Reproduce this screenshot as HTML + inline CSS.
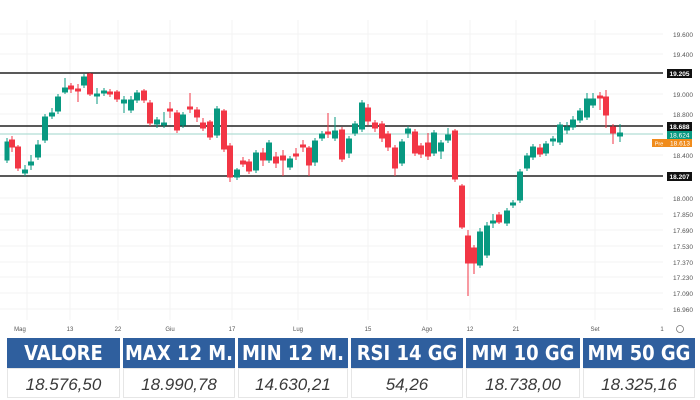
<!DOCTYPE html>
<html><head><meta charset="utf-8"><style>
body{margin:0;width:700px;height:400px;background:#fff;overflow:hidden;font-family:"Liberation Sans",sans-serif}
svg{position:absolute;left:0;top:0}
.t{position:absolute;top:338px;height:30px;background:#2f5f9e;color:#fff;font-weight:bold;font-size:20px;text-align:center;line-height:30px;font-family:"Liberation Sans Narrow","DejaVu Sans Condensed","Liberation Sans",sans-serif}
.v{position:absolute;top:368px;height:30px;color:#3a3a3a;font-style:italic;font-size:17px;text-align:center;line-height:31px;border:1px solid #e6e6e6;box-sizing:border-box}
</style></head><body>
<svg width="700" height="340" viewBox="0 0 700 340">
<g stroke="#f3f3f3" stroke-width="1">
<line x1="0" y1="34" x2="663" y2="34"/><line x1="0" y1="54" x2="663" y2="54"/><line x1="0" y1="94" x2="663" y2="94"/><line x1="0" y1="114" x2="663" y2="114"/><line x1="0" y1="155" x2="663" y2="155"/><line x1="0" y1="198" x2="663" y2="198"/><line x1="0" y1="214" x2="663" y2="214"/><line x1="0" y1="230" x2="663" y2="230"/><line x1="0" y1="246" x2="663" y2="246"/><line x1="0" y1="262" x2="663" y2="262"/><line x1="0" y1="277" x2="663" y2="277"/><line x1="0" y1="293" x2="663" y2="293"/><line x1="0" y1="309" x2="663" y2="309"/>
<line x1="27" y1="20" x2="27" y2="320"/><line x1="70" y1="20" x2="70" y2="320"/><line x1="118" y1="20" x2="118" y2="320"/><line x1="170" y1="20" x2="170" y2="320"/><line x1="232" y1="20" x2="232" y2="320"/><line x1="298" y1="20" x2="298" y2="320"/><line x1="368" y1="20" x2="368" y2="320"/><line x1="427" y1="20" x2="427" y2="320"/><line x1="470" y1="20" x2="470" y2="320"/><line x1="516" y1="20" x2="516" y2="320"/><line x1="595" y1="20" x2="595" y2="320"/>
</g>
<line x1="0" y1="73" x2="663" y2="73" stroke="#222" stroke-width="1.5"/>
<line x1="0" y1="126" x2="663" y2="126" stroke="#222" stroke-width="1.5"/>
<line x1="0" y1="134" x2="663" y2="134" stroke="#9fd6cb" stroke-width="1"/>
<line x1="0" y1="176" x2="663" y2="176" stroke="#222" stroke-width="1.5"/>
<g stroke-width="1">
<g stroke="#089981" fill="#089981">
<line x1="7" y1="138" x2="7" y2="163"/><rect x="5" y="142" width="4" height="18"/>
<line x1="25" y1="165" x2="25" y2="176"/><rect x="22.5" y="170" width="5" height="3"/>
<line x1="31" y1="155" x2="31" y2="170"/><rect x="28.5" y="162" width="5" height="3"/>
<line x1="38" y1="140" x2="38" y2="160"/><rect x="35.5" y="145" width="5" height="12"/>
<line x1="45" y1="114" x2="45" y2="143"/><rect x="42.5" y="117" width="5" height="23"/>
<line x1="52" y1="108" x2="52" y2="119"/><rect x="49.5" y="113" width="5" height="3"/>
<line x1="58" y1="94" x2="58" y2="114"/><rect x="55.5" y="97" width="5" height="14"/>
<line x1="65" y1="78" x2="65" y2="94"/><rect x="62.5" y="88" width="5" height="4"/>
<line x1="84" y1="74" x2="84" y2="88"/><rect x="81.5" y="77" width="5" height="8"/>
<line x1="97" y1="88" x2="97" y2="104"/><rect x="94.5" y="94" width="5" height="2"/>
<line x1="104" y1="88" x2="104" y2="96"/><rect x="101.5" y="91" width="5" height="2"/>
<line x1="124" y1="96" x2="124" y2="113"/><rect x="121.5" y="100" width="5" height="3"/>
<line x1="131" y1="96" x2="131" y2="113"/><rect x="128.5" y="100" width="5" height="10"/>
<line x1="137" y1="90" x2="137" y2="103"/><rect x="134.5" y="93" width="5" height="7"/>
<line x1="157" y1="117" x2="157" y2="128"/><rect x="154.5" y="120" width="5" height="4"/>
<line x1="164" y1="112" x2="164" y2="128"/><rect x="161.5" y="123" width="5" height="2"/>
<line x1="183" y1="112" x2="183" y2="128"/><rect x="180.5" y="115" width="5" height="10"/>
<line x1="217" y1="106" x2="217" y2="138"/><rect x="214.5" y="109" width="5" height="26"/>
<line x1="237" y1="168" x2="237" y2="180"/><rect x="234.5" y="170" width="5" height="7"/>
<line x1="256" y1="150" x2="256" y2="173"/><rect x="253.5" y="153" width="5" height="17"/>
<line x1="269" y1="140" x2="269" y2="163"/><rect x="266.5" y="143" width="5" height="17"/>
<line x1="290" y1="156" x2="290" y2="170"/><rect x="287.5" y="159" width="5" height="8"/>
<line x1="315" y1="138" x2="315" y2="166"/><rect x="312.5" y="141" width="5" height="21"/>
<line x1="322" y1="131" x2="322" y2="141"/><rect x="319.5" y="134" width="5" height="4"/>
<line x1="335" y1="117" x2="335" y2="141"/><rect x="332.5" y="131" width="5" height="7"/>
<line x1="349" y1="136" x2="349" y2="158"/><rect x="346.5" y="139" width="5" height="14"/>
<line x1="355" y1="121" x2="355" y2="136"/><rect x="352.5" y="124" width="5" height="9"/>
<line x1="362" y1="100" x2="362" y2="132"/><rect x="359.5" y="103" width="5" height="26"/>
<line x1="402" y1="139" x2="402" y2="166"/><rect x="399.5" y="142" width="5" height="21"/>
<line x1="408" y1="126" x2="408" y2="138"/><rect x="405.5" y="129" width="5" height="4"/>
<line x1="434" y1="130" x2="434" y2="156"/><rect x="431.5" y="133" width="5" height="20"/>
<line x1="441" y1="140" x2="441" y2="159"/><rect x="438.5" y="143" width="5" height="8"/>
<line x1="448" y1="128" x2="448" y2="143"/><rect x="445.5" y="135" width="5" height="5"/>
<line x1="480" y1="228" x2="480" y2="268"/><rect x="477.5" y="232" width="5" height="33"/>
<line x1="487" y1="222" x2="487" y2="258"/><rect x="484.5" y="226" width="5" height="29"/>
<line x1="493" y1="214" x2="493" y2="228"/><rect x="490.5" y="221" width="5" height="2"/>
<line x1="507" y1="208" x2="507" y2="226"/><rect x="504.5" y="211" width="5" height="12"/>
<line x1="513" y1="200" x2="513" y2="208"/><rect x="510.5" y="203" width="5" height="2"/>
<line x1="520" y1="169" x2="520" y2="203"/><rect x="517.5" y="172" width="5" height="28"/>
<line x1="527" y1="153" x2="527" y2="171"/><rect x="524.5" y="156" width="5" height="12"/>
<line x1="533" y1="144" x2="533" y2="160"/><rect x="530.5" y="147" width="5" height="10"/>
<line x1="546" y1="141" x2="546" y2="156"/><rect x="543.5" y="144" width="5" height="9"/>
<line x1="553" y1="136" x2="553" y2="146"/><rect x="550.5" y="139" width="5" height="2"/>
<line x1="560" y1="122" x2="560" y2="145"/><rect x="557.5" y="125" width="5" height="17"/>
<line x1="567" y1="122" x2="567" y2="134"/><rect x="564.5" y="127" width="5" height="3"/>
<line x1="573" y1="116" x2="573" y2="130"/><rect x="570.5" y="120" width="5" height="7"/>
<line x1="580" y1="108" x2="580" y2="123"/><rect x="577.5" y="111" width="5" height="9"/>
<line x1="587" y1="93" x2="587" y2="120"/><rect x="584.5" y="99" width="5" height="18"/>
<line x1="593" y1="93" x2="593" y2="108"/><rect x="590.5" y="99" width="5" height="6"/>
<line x1="620" y1="124" x2="620" y2="142"/><rect x="617.5" y="133" width="5" height="3"/>
</g>
<g stroke="#f23645" fill="#f23645">
<line x1="12" y1="136" x2="12" y2="152"/><rect x="9.5" y="140" width="5" height="7"/>
<line x1="18" y1="145" x2="18" y2="171"/><rect x="15.5" y="147" width="5" height="21"/>
<line x1="71" y1="83" x2="71" y2="93"/><rect x="68.5" y="86" width="5" height="3"/>
<line x1="78" y1="84" x2="78" y2="102"/><rect x="75.5" y="89" width="5" height="2"/>
<line x1="90" y1="73" x2="90" y2="96"/><rect x="87.5" y="74" width="5" height="20"/>
<line x1="110" y1="89" x2="110" y2="97"/><rect x="107.5" y="92" width="5" height="2"/>
<line x1="117" y1="90" x2="117" y2="102"/><rect x="114.5" y="92" width="5" height="7"/>
<line x1="144" y1="89" x2="144" y2="103"/><rect x="141.5" y="91" width="5" height="9"/>
<line x1="150" y1="100" x2="150" y2="126"/><rect x="147.5" y="103" width="5" height="20"/>
<line x1="170" y1="102" x2="170" y2="118"/><rect x="167.5" y="109" width="5" height="2"/>
<line x1="177" y1="110" x2="177" y2="133"/><rect x="174.5" y="113" width="5" height="17"/>
<line x1="190" y1="93" x2="190" y2="113"/><rect x="187.5" y="107" width="5" height="2"/>
<line x1="197" y1="107" x2="197" y2="122"/><rect x="194.5" y="110" width="5" height="7"/>
<line x1="203" y1="118" x2="203" y2="131"/><rect x="200.5" y="123" width="5" height="5"/>
<line x1="210" y1="120" x2="210" y2="140"/><rect x="207.5" y="122" width="5" height="15"/>
<line x1="224" y1="109" x2="224" y2="152"/><rect x="221.5" y="111" width="5" height="38"/>
<line x1="230" y1="143" x2="230" y2="182"/><rect x="227.5" y="146" width="5" height="31"/>
<line x1="243" y1="157" x2="243" y2="167"/><rect x="240.5" y="161" width="5" height="3"/>
<line x1="249" y1="159" x2="249" y2="174"/><rect x="246.5" y="162" width="5" height="9"/>
<line x1="263" y1="148" x2="263" y2="166"/><rect x="260.5" y="153" width="5" height="7"/>
<line x1="276" y1="152" x2="276" y2="168"/><rect x="273.5" y="157" width="5" height="6"/>
<line x1="283" y1="150" x2="283" y2="176"/><rect x="280.5" y="156" width="5" height="4"/>
<line x1="296" y1="148" x2="296" y2="160"/><rect x="293.5" y="154" width="5" height="2"/>
<line x1="303" y1="140" x2="303" y2="152"/><rect x="300.5" y="145" width="5" height="2"/>
<line x1="309" y1="146" x2="309" y2="176"/><rect x="306.5" y="148" width="5" height="17"/>
<line x1="328" y1="113" x2="328" y2="138"/><rect x="325.5" y="132" width="5" height="2"/>
<line x1="342" y1="127" x2="342" y2="162"/><rect x="339.5" y="130" width="5" height="29"/>
<line x1="368" y1="104" x2="368" y2="125"/><rect x="365.5" y="108" width="5" height="13"/>
<line x1="375" y1="120" x2="375" y2="132"/><rect x="372.5" y="123" width="5" height="5"/>
<line x1="382" y1="121" x2="382" y2="142"/><rect x="379.5" y="124" width="5" height="14"/>
<line x1="388" y1="131" x2="388" y2="151"/><rect x="385.5" y="134" width="5" height="13"/>
<line x1="395" y1="145" x2="395" y2="176"/><rect x="392.5" y="148" width="5" height="20"/>
<line x1="415" y1="129" x2="415" y2="156"/><rect x="412.5" y="132" width="5" height="21"/>
<line x1="421" y1="143" x2="421" y2="158"/><rect x="418.5" y="146" width="5" height="8"/>
<line x1="428" y1="133" x2="428" y2="160"/><rect x="425.5" y="143" width="5" height="13"/>
<line x1="455" y1="129" x2="455" y2="182"/><rect x="452.5" y="131" width="5" height="48"/>
<line x1="462" y1="184" x2="462" y2="229"/><rect x="459.5" y="186" width="5" height="41"/>
<line x1="468" y1="230" x2="468" y2="296"/><rect x="465.5" y="236" width="5" height="27"/>
<line x1="474" y1="245" x2="474" y2="274"/><rect x="471.5" y="248" width="5" height="15"/>
<line x1="499" y1="212" x2="499" y2="224"/><rect x="496.5" y="215" width="5" height="7"/>
<line x1="540" y1="144" x2="540" y2="157"/><rect x="537.5" y="148" width="5" height="6"/>
<line x1="600" y1="92" x2="600" y2="110"/><rect x="597.5" y="96" width="5" height="2"/>
<line x1="606" y1="90" x2="606" y2="128"/><rect x="603.5" y="97" width="5" height="18"/>
<line x1="613" y1="124" x2="613" y2="144"/><rect x="610.5" y="127" width="5" height="6"/>
</g>
</g>
<g font-size="6.5" fill="#555" text-anchor="middle">
<text x="683" y="37">19.600</text><text x="683" y="57">19.400</text><text x="683" y="97">19.000</text><text x="683" y="117">18.800</text><text x="683" y="158">18.400</text><text x="683" y="201">18.000</text><text x="683" y="217">17.850</text><text x="683" y="233">17.690</text><text x="683" y="249">17.530</text><text x="683" y="265">17.370</text><text x="683" y="280">17.230</text><text x="683" y="296">17.090</text><text x="683" y="312">16.960</text>
</g>
<rect x="667" y="69" width="25" height="9" fill="#111"/><text x="679.5" y="76" font-size="6.5" fill="#fff" text-anchor="middle" font-weight="bold">19.205</text>
<rect x="667" y="122" width="25" height="9" fill="#111"/><text x="679.5" y="129" font-size="6.5" fill="#fff" text-anchor="middle" font-weight="bold">18.688</text>
<rect x="667" y="131" width="25" height="8" fill="#089981"/><text x="679.5" y="137.5" font-size="6.5" fill="#fff" text-anchor="middle">18.624</text>
<rect x="652" y="139" width="40" height="8" fill="#f08c1c"/><text x="659" y="145.5" font-size="5.5" fill="#fff" text-anchor="middle">Pre</text><text x="680" y="145.5" font-size="6.5" fill="#fff" text-anchor="middle">18.613</text>
<rect x="667" y="172" width="25" height="9" fill="#111"/><text x="679.5" y="179" font-size="6.5" fill="#fff" text-anchor="middle" font-weight="bold">18.207</text>
<g font-size="6" fill="#555" text-anchor="middle">
<text x="20" y="331">Mag</text><text x="70" y="331">13</text><text x="118" y="331">22</text><text x="170" y="331">Giu</text><text x="232" y="331">17</text><text x="298" y="331">Lug</text><text x="368" y="331">15</text><text x="427" y="331">Ago</text><text x="470" y="331">12</text><text x="516" y="331">21</text><text x="595" y="331">Set</text><text x="662" y="331">1</text>
</g>
<circle cx="680" cy="329" r="3.5" fill="none" stroke="#777" stroke-width="0.8"/>
</svg>
<div class="t" style="left:7px;width:113px">VALORE</div>
<div class="t" style="left:123px;width:112px">MAX 12 M.</div>
<div class="t" style="left:238px;width:110px">MIN 12 M.</div>
<div class="t" style="left:351px;width:112px">RSI 14 GG</div>
<div class="t" style="left:466px;width:114px">MM 10 GG</div>
<div class="t" style="left:583px;width:112px">MM 50 GG</div>
<div class="v" style="left:7px;width:113px">18.576,50</div>
<div class="v" style="left:123px;width:112px">18.990,78</div>
<div class="v" style="left:238px;width:110px">14.630,21</div>
<div class="v" style="left:351px;width:112px">54,26</div>
<div class="v" style="left:466px;width:114px">18.738,00</div>
<div class="v" style="left:583px;width:112px">18.325,16</div>
</body></html>
